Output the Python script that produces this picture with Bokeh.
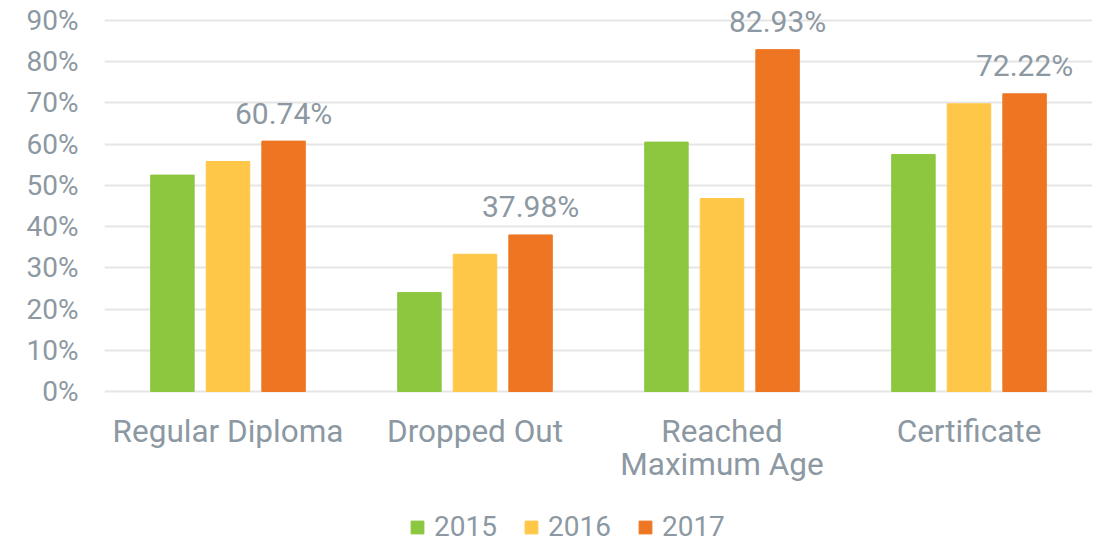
from bokeh.plotting import figure
from bokeh.models import ColumnDataSource, FactorRange, Range1d, Legend, LegendItem, FixedTicker
from bokeh.transform import dodge
from bokeh.core.properties import value
from bokeh.embed import file_html
from bokeh.resources import INLINE

categories = ["Regular Diploma", "Dropped Out", "Reached Maximum Age", "Certificate"]
cat_line1 = ["Regular Diploma", "Dropped Out", "Reached", "Certificate"]
cat_line2 = ["", "", "Maximum Age", ""]
years = ["2015", "2016", "2017"]
v2015 = [52.5, 24.0, 60.5, 57.5]
v2016 = [55.8, 33.3, 46.8, 69.8]
v2017 = [60.74, 37.98, 82.93, 72.22]
label_2017 = ["60.74%", "37.98%", "82.93%", "72.22%"]
colors = ["#8DC63F", "#FFC747", "#EE7623"]
y_ticks = [0, 10, 20, 30, 40, 50, 60, 70, 80, 90]

FONT = "Roboto"
TXT = "#8C98A2"

src = ColumnDataSource(dict(cat=categories, v2015=v2015, v2016=v2016, v2017=v2017, lab=label_2017,
                            l1=cat_line1, l2=cat_line2,
                            y1=[-9.7] * len(categories), y2=[-17.7] * len(categories)))

p = figure(x_range=FactorRange(*categories), y_range=Range1d(-36.87, 93.64),
           width=1100, height=543, output_backend="svg", toolbar_location=None,
           min_border_left=104, min_border_right=8, min_border_top=5, min_border_bottom=0)
p.outline_line_color = None
p.background_fill_color = "white"

offs = [-0.225, 0.0, 0.225]
rs = []
for yr, off, col in zip(years, offs, colors):
    r = p.vbar(x=dodge("cat", off, range=p.x_range), top="v" + yr, width=0.176, bottom=0,
               source=src, fill_color=col, line_color=col, line_width=1)
    rs.append(r)

p.text(x=dodge("cat", 0.225, range=p.x_range), y="v2017", text="lab", source=src,
       text_align="center", text_baseline="alphabetic", y_offset=-28,
       text_font=value(FONT), text_font_size="30px", text_color=TXT)

# category labels (two lines for "Reached Maximum Age")
p.text(x="cat", y="y1", text="l1", source=src, text_align="center", text_baseline="alphabetic",
       text_font=value(FONT), text_font_size="31.5px", text_color=TXT)
p.text(x="cat", y="y2", text="l2", source=src, text_align="center", text_baseline="alphabetic",
       text_font=value(FONT), text_font_size="31.5px", text_color=TXT)

p.yaxis.ticker = FixedTicker(ticks=y_ticks)
p.yaxis.major_label_overrides = {t: f"{t}%" for t in y_ticks}
p.yaxis.axis_line_color = None
p.yaxis.major_tick_line_color = None
p.yaxis.minor_tick_line_color = None
p.yaxis.major_label_text_font = FONT
p.yaxis.major_label_text_font_size = "28px"
p.yaxis.major_label_text_color = TXT
p.yaxis.major_label_standoff = 20

p.xaxis.visible = False

p.xgrid.grid_line_color = None
p.ygrid.grid_line_color = "#E5E5E5"
p.ygrid.grid_line_width = 2

legend = Legend(items=[LegendItem(label=yr, renderers=[r]) for yr, r in zip(years, rs)],
                orientation="horizontal", location=(305, 0),
                label_text_font=FONT, label_text_font_size="28px", label_text_color=TXT,
                glyph_width=16, glyph_height=16, label_standoff=9, spacing=26,
                padding=0, margin=0, border_line_color=None, background_fill_alpha=0)
p.add_layout(legend, "center")

open("out.html", "w").write(file_html(p, INLINE))
